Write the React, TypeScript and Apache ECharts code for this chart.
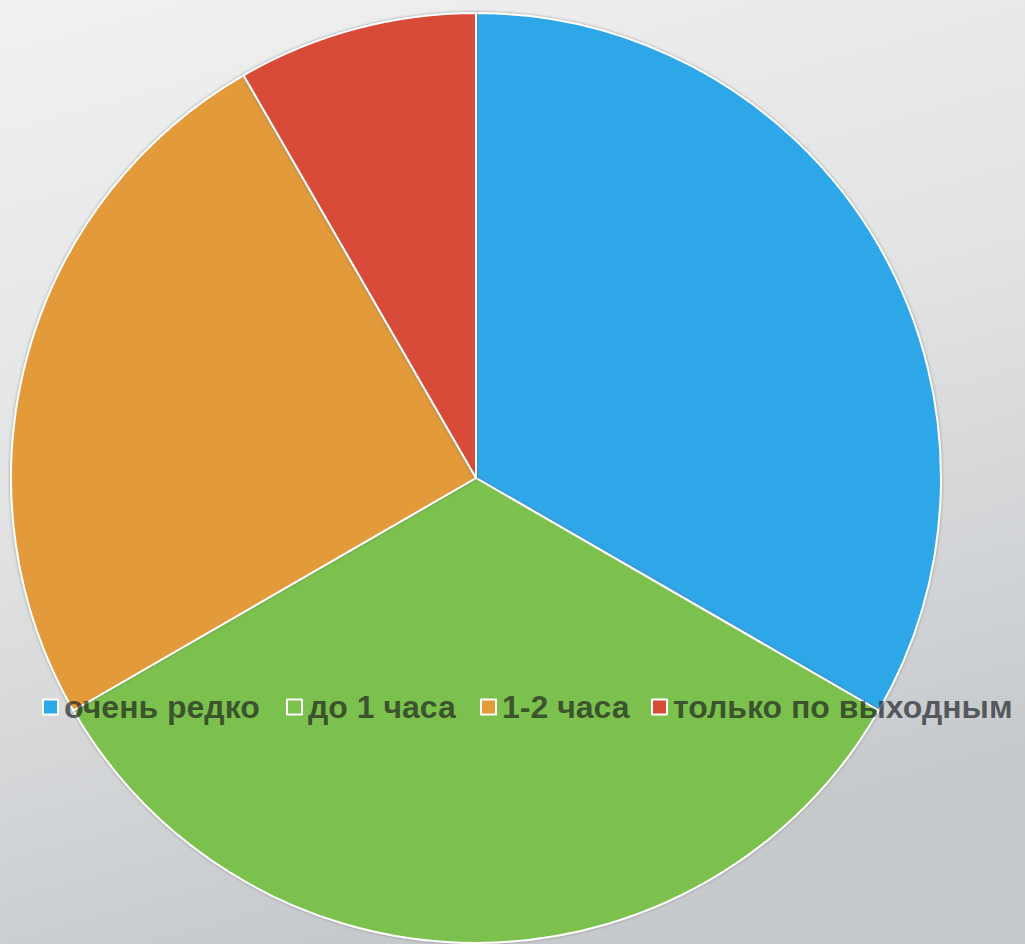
import React, { useEffect, useRef } from "react";
import * as echarts from "echarts";

const categories = ["очень редко", "до 1 часа", "1-2 часа", "только по выходным"];
const values = [4, 4, 3, 1];
const colors = ["#2ea7e9", "#7cc14d", "#e29a3a", "#d84b37"];
const legendLefts = [42, 286, 480, 651];

export default function App() {
  const ref = useRef<HTMLDivElement>(null);
  useEffect(() => {
    if (!ref.current) return;
    const chart = echarts.init(ref.current, undefined, { renderer: "svg" });
    chart.setOption({
      animation: false,
      backgroundColor: new echarts.graphic.LinearGradient(0, 0, 0.3, 1, [
        { offset: 0, color: "#f1f1f1" },
        { offset: 0.5, color: "#e2e3e4" },
        { offset: 1, color: "#c7cacd" },
      ]),
      color: colors,
      legend: categories.map((c, i) => ({
        show: true,
        left: legendLefts[i],
        top: 691,
        padding: 0,
        itemWidth: 15,
        itemHeight: 15,
        icon: "rect",
        itemStyle: { borderColor: "#ffffff", borderWidth: 2 },
        textStyle: {
          fontFamily: "Liberation Sans, Arial, sans-serif",
          fontWeight: "bold",
          fontSize: 32,
          color: "rgba(25,28,30,0.68)",
          padding: [0, 0, 0, 1],
        },
        data: [c],
      })),
      series: [
        {
          type: "pie",
          center: [476, 478],
          radius: [0, 465],
          startAngle: 90,
          clockwise: true,
          label: { show: false },
          labelLine: { show: false },
          emphasis: { disabled: true },
          itemStyle: {
            borderColor: "#ffffff",
            borderWidth: 2,
            shadowBlur: 3,
            shadowColor: "rgba(90,90,90,0.6)",
          },
          data: categories.map((c, i) => ({ name: c, value: values[i] })),
        },
      ],
    });
    return () => chart.dispose();
  }, []);
  return (
    <div
      ref={ref}
      style={{ position: "fixed", left: 0, top: 0, width: 1025, height: 944 }}
    />
  );
}
